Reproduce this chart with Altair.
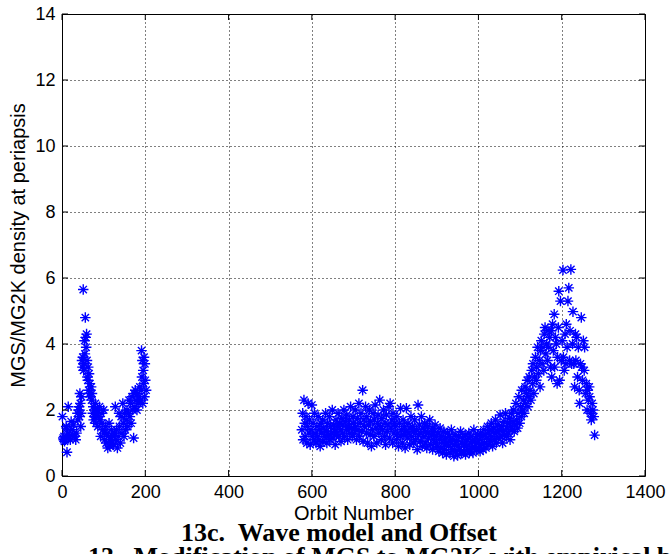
import altair as alt
import pandas as pd

# ---------------- data ----------------
orbit_early = [1, 3, 4, 5, 6, 8, 10, 11, 12, 13, 15, 16, 18, 20, 22, 24, 26, 28, 30, 33,
               35, 37, 38, 40, 41, 42, 43, 44, 45, 46, 47, 48, 49, 50, 51, 52, 53, 54, 55, 56,
               57, 58, 59, 60, 61, 62, 63, 64, 65, 66, 67, 68, 70, 71, 72, 74, 75, 76, 78, 79,
               80, 82, 83, 85, 86, 88, 90, 91, 93, 94, 96, 98, 100, 101, 103, 105, 106, 108, 110, 112,
               113, 115, 117, 119, 120, 122, 124, 126, 128, 129, 131, 133, 135, 137, 138, 140, 142, 144, 146, 147,
               149, 150, 152, 154, 156, 158, 160, 161, 163, 165, 166, 168, 170, 172, 173, 175, 176, 178, 180, 182,
               183, 185, 187, 188, 190, 191, 192, 193, 194, 195, 196, 197, 198, 199, 200, 202]
dens_early = [1.8, 1.15, 1.1, 1.2, 1.05, 1.1, 1.5, 1.45, 0.72, 1.3, 2.1, 1.15, 1.2, 1.1, 1.65, 1.4, 1.25, 1.55, 1.2, 1.1,
              1.3, 1.9, 1.7, 2.0, 2.1, 1.8, 2.5, 2.2, 1.5, 1.9, 2.4, 3.5, 3.3, 3.6, 5.65, 3.2, 3.4, 4.1, 3.7, 4.8,
              4.2, 3.9, 4.3, 3.5, 3.0, 2.9, 3.3, 2.6, 3.1, 2.5, 2.8, 2.4, 2.7, 2.3, 2.5, 1.9, 2.1, 1.7, 2.0, 1.8,
              2.2, 1.6, 1.9, 2.0, 1.5, 1.8, 2.1, 1.7, 1.2, 1.9, 1.6, 1.4, 2.0, 1.3, 1.1, 1.5, 1.0, 1.3, 0.85, 1.2,
              1.6, 0.9, 1.1, 1.4, 1.0, 1.2, 0.95, 1.3, 2.1, 1.1, 1.4, 0.85, 1.2, 1.9, 1.5, 1.0, 1.8, 1.3, 2.2, 1.6,
              1.2, 1.9, 1.4, 1.7, 2.0, 1.5, 1.9, 2.3, 1.8, 2.2, 1.6, 2.4, 2.0, 1.15, 2.5, 2.1, 2.6, 2.3, 2.0, 2.5,
              2.2, 2.4, 2.7, 2.3, 2.6, 3.8, 3.0, 3.5, 2.2, 3.2, 2.8, 3.6, 2.4, 3.4, 2.9, 2.6]

orbit_600 = [576, 578, 579, 581, 583, 584, 586, 588, 589, 591, 593, 594, 596, 598, 600, 601, 603, 605, 606, 608,
             610, 612, 613, 615, 617, 619, 620, 622, 624, 626, 627, 629, 631, 633, 635, 636, 638, 640, 642, 643,
             645, 647, 649, 651, 652, 654, 656, 658, 659, 661, 663, 665, 667, 668, 670, 672, 674, 675, 677, 679,
             681, 683, 684, 686, 688, 690, 691, 693, 695, 697, 699]
dens_600 = [1.4, 1.9, 1.1, 2.3, 1.6, 1.2, 1.8, 1.0, 1.5, 2.2, 1.3, 1.7, 0.95, 1.4, 2.15, 1.2, 1.6, 1.1, 1.9, 1.3,
            1.0, 1.5, 1.2, 1.8, 1.1, 1.4, 0.9, 1.6, 1.3, 1.7, 1.05, 1.45, 1.2, 1.9, 1.35, 1.0, 1.6, 1.25, 1.8, 1.1,
            1.5, 1.3, 2.0, 1.15, 1.55, 1.35, 0.95, 1.7, 1.25, 1.5, 1.9, 1.2, 1.6, 1.4, 1.05, 1.75, 1.3, 1.55, 2.0, 1.2,
            1.65, 1.4, 1.85, 1.1, 1.5, 1.7, 1.3, 2.1, 1.45, 1.2, 1.8]

orbit_700 = [700, 702, 704, 705, 707, 709, 711, 713, 714, 716, 718, 720, 722, 723, 725, 727, 729, 731, 732, 734,
             736, 738, 740, 741, 743, 745, 747, 749, 750, 752, 754, 756, 758, 759, 761, 763, 765, 767, 768, 770,
             772, 774, 776, 777, 779, 781, 783, 785, 786, 788, 790, 792, 794, 795, 797, 799]
dens_700 = [1.6, 1.3, 2.0, 1.5, 1.1, 1.75, 1.4, 2.2, 1.2, 1.6, 1.9, 1.35, 2.6, 1.05, 1.7, 1.5, 2.1, 1.3, 1.8, 1.0,
            1.55, 2.0, 1.25, 1.65, 0.9, 1.4, 1.9, 1.2, 1.7, 2.15, 1.45, 1.0, 1.6, 1.85, 1.3, 2.3, 1.5, 1.1, 1.75, 1.4,
            2.0, 1.2, 1.6, 0.95, 1.85, 1.35, 1.55, 2.1, 1.15, 2.2, 1.45, 1.7, 1.0, 1.9, 1.3, 1.6]

orbit_800 = [801, 803, 804, 806, 808, 810, 812, 813, 815, 817, 819, 821, 822, 824, 826, 827, 829, 831, 833, 835,
             836, 838, 840, 842, 844, 845, 847, 849, 851, 853, 855, 856, 858, 860, 862, 863, 865, 867, 869, 871,
             872, 874, 876, 878, 880, 881, 883, 885, 887, 889, 890, 892, 894, 896, 898, 899]
dens_800 = [1.5, 1.1, 1.8, 1.3, 0.9, 1.6, 1.2, 2.05, 1.4, 1.0, 1.7, 1.25, 1.5, 0.85, 1.35, 2.05, 1.15, 1.6, 1.3, 0.95,
            1.45, 1.8, 1.2, 1.5, 1.0, 1.35, 1.7, 1.1, 1.4, 0.8, 2.15, 1.25, 1.55, 1.05, 1.3, 1.8, 0.9, 1.45, 1.2, 1.6,
            1.0, 1.35, 0.85, 1.5, 1.15, 1.3, 1.7, 0.95, 1.25, 1.45, 0.8, 1.1, 1.35, 1.55, 1.0, 1.2]

orbit_900 = [901, 903, 905, 906, 908, 910, 912, 914, 915, 917, 919, 921, 923, 924, 926, 928, 930, 932, 933, 935,
             937, 939, 941, 942, 944, 946, 948, 950, 951, 953, 955, 957, 959, 960, 962, 964, 966, 968, 969, 971,
             973, 975, 977, 978, 980, 982, 984, 986, 987, 989, 991, 993, 995, 996, 998]
dens_900 = [0.9, 1.3, 0.75, 1.1, 1.45, 0.85, 1.2, 0.7, 1.0, 1.35, 0.8, 1.15, 0.65, 1.0, 1.3, 0.9, 1.2, 0.7, 1.05, 1.4,
            0.8, 1.1, 0.6, 0.95, 1.25, 0.75, 1.05, 0.62, 0.9, 1.2, 0.8, 1.35, 0.7, 1.0, 1.15, 0.75, 0.95, 1.25, 0.65, 0.9,
            1.1, 0.8, 1.3, 0.7, 1.0, 1.2, 0.85, 1.05, 0.7, 1.4, 0.9, 1.15, 0.8, 1.0, 1.25]

orbit_1000 = [1000, 1002, 1004, 1005, 1007, 1009, 1011, 1013, 1014, 1016, 1018, 1020, 1022, 1023, 1025, 1027, 1029,
              1031, 1032, 1034, 1036, 1038, 1040, 1041, 1043, 1045, 1047, 1049, 1050, 1052, 1054, 1056, 1058, 1059,
              1061, 1063, 1065, 1067, 1068, 1070, 1072, 1074, 1076, 1077, 1079, 1081, 1083, 1085, 1086, 1088, 1090,
              1092, 1094, 1095, 1097, 1099]
dens_1000 = [0.85, 1.1, 0.75, 1.3, 0.95, 1.2, 0.8, 1.4, 1.0, 1.25, 0.85, 1.15, 1.5, 0.95, 1.3, 1.4, 1.05,
             1.6, 1.2, 0.9, 1.45, 1.1, 1.3, 1.7, 1.0, 1.35, 1.55, 1.15, 1.4, 1.85, 1.2, 1.5, 1.0, 1.35,
             1.65, 1.25, 1.9, 1.2, 1.45, 1.6, 1.3, 1.75, 1.1, 1.5, 1.9, 1.4, 1.65, 2.0, 1.35, 1.55, 2.2,
             1.7, 1.45, 1.9, 2.4, 1.6]

orbit_1100 = [1101, 1103, 1104, 1106, 1108, 1110, 1112, 1113, 1115, 1117, 1119, 1121, 1122, 1124, 1126, 1128, 1130,
              1131, 1133, 1135, 1137, 1139, 1140, 1142, 1144, 1146, 1148, 1149, 1151, 1153, 1155, 1157, 1158, 1160,
              1162, 1164, 1166, 1167, 1169, 1171, 1173, 1175, 1176, 1178]
dens_1100 = [2.1, 1.8, 2.6, 2.0, 2.3, 1.9, 2.7, 2.2, 2.5, 2.9, 2.1, 2.4, 3.0, 2.6, 2.3, 3.2, 2.8,
             3.4, 2.5, 3.0, 3.6, 2.9, 3.3, 3.9, 3.1, 3.5, 2.7, 3.8, 4.1, 3.4, 3.9, 3.2, 4.3, 4.5,
             3.7, 4.0, 3.5, 4.4, 3.9, 4.2, 3.3, 4.4, 3.0, 4.6]

orbit_1180 = [1180, 1182, 1183, 1185, 1187, 1189, 1190, 1192, 1193, 1195, 1197, 1199, 1201, 1203, 1204, 1206, 1208,
              1210, 1211, 1213, 1215, 1217, 1219, 1220, 1222, 1224, 1226, 1227, 1229]
dens_1180 = [3.8, 4.9, 3.3, 4.2, 4.0, 2.8, 3.6, 4.5, 5.6, 2.9, 5.3, 3.5, 4.1, 6.24, 3.6, 3.2, 4.3,
             3.4, 4.6, 3.9, 5.3, 5.7, 3.5, 4.4, 6.26, 3.4, 4.0, 4.98, 3.4]

orbit_1230 = [1231, 1233, 1234, 1236, 1238, 1240, 1242, 1243, 1245, 1247, 1248, 1250, 1252, 1254, 1255, 1257, 1259,
              1261, 1262, 1264, 1266, 1267, 1269, 1271, 1273, 1275, 1277, 1279]
dens_1230 = [2.7, 4.3, 3.5, 4.2, 3.0, 3.9, 2.6, 2.2, 3.4, 4.8, 3.3, 2.9, 4.1, 3.2, 3.9, 2.5, 2.8,
             2.0, 2.6, 2.3, 2.7, 2.4, 1.9, 1.7, 2.2, 2.0, 1.8, 1.24]

x_ticks = [0, 200, 400, 600, 800, 1000, 1200, 1400]
y_ticks = [0, 2, 4, 6, 8, 10, 12, 14]

x_title = "Orbit Number"
y_title = "MGS/MG2K density at periapsis"
fig_title = "13c.\u00a0 Wave model and Offset"
caption = "13.\u00a0 Modification of MGS to MG2K with empirical bottomside scaling"

# ---------------- build table ----------------
orbits = (orbit_early + orbit_600 + orbit_700 + orbit_800 + orbit_900 +
          orbit_1000 + orbit_1100 + orbit_1180 + orbit_1230)
dens = (dens_early + dens_600 + dens_700 + dens_800 + dens_900 +
        dens_1000 + dens_1100 + dens_1180 + dens_1230)
df = pd.DataFrame({"orbit": orbits, "density": dens})
xt = pd.DataFrame({"t": x_ticks})
yt = pd.DataFrame({"t": y_ticks})

W, H = 583, 462
xscale = alt.Scale(domain=[0, 1400], nice=False, zero=False)
yscale = alt.Scale(domain=[0, 14], nice=False, zero=False)

common = dict(grid=True, gridColor="#000000", gridDash=[1, 3], gridOpacity=1, gridWidth=1,
              tickSize=0, domain=False, labelPadding=7, format="d",
              labelFont="Liberation Sans", labelFontSize=18, labelColor="black",
              titleFont="Liberation Sans", titleFontSize=20, titleFontWeight="normal",
              titleColor="black", labelFlush=False)
x_axis = alt.Axis(values=x_ticks, title=x_title, titlePadding=2, **common)
y_axis = alt.Axis(values=y_ticks, title=y_title, titlePadding=6, **common)

ASTERISK = "M-1,0L1,0M0,-1L0,1M-0.7,-0.7L0.7,0.7M-0.7,0.7L0.7,-0.7"

points = alt.Chart(df).mark_point(
    shape=ASTERISK, filled=False, size=110, strokeWidth=1.4,
    color="#0000ff", opacity=1
).encode(
    x=alt.X("orbit:Q", scale=xscale, axis=x_axis),
    y=alt.Y("density:Q", scale=yscale, axis=y_axis),
)

tick_len = 6
xb = alt.Chart(xt).mark_rule(color="black", strokeWidth=1).encode(
    x=alt.X("t:Q", scale=xscale, axis=x_axis), y=alt.value(H), y2=alt.value(H - tick_len))
xtp = alt.Chart(xt).mark_rule(color="black", strokeWidth=1).encode(
    x=alt.X("t:Q", scale=xscale, axis=x_axis), y=alt.value(0), y2=alt.value(tick_len))
yl = alt.Chart(yt).mark_rule(color="black", strokeWidth=1).encode(
    y=alt.Y("t:Q", scale=yscale, axis=y_axis), x=alt.value(0), x2=alt.value(tick_len))
yr = alt.Chart(yt).mark_rule(color="black", strokeWidth=1).encode(
    y=alt.Y("t:Q", scale=yscale, axis=y_axis), x=alt.value(W), x2=alt.value(W - tick_len))

title_txt = alt.Chart(xt.head(1)).mark_text(
    font="Liberation Serif", fontWeight="bold", fontSize=26, color="black",
    align="center", baseline="alphabetic"
).encode(x=alt.value(277), y=alt.value(H + 65), text=alt.value(fig_title))

caption_txt = alt.Chart(xt.head(1)).mark_text(
    font="Liberation Serif", fontWeight="bold", fontSize=26, color="black",
    align="left", baseline="alphabetic"
).encode(x=alt.value(26), y=alt.value(H + 89), text=alt.value(caption))

chart = alt.layer(points, xb, xtp, yl, yr, title_txt, caption_txt).properties(
    width=W, height=H,
    padding={"left": 62, "top": 14, "right": 25, "bottom": 78},
    autosize=alt.AutoSizeParams(type="none"),
    background="white",
).configure_view(stroke="black", strokeWidth=1)

chart.save("out.html", embed_options={"renderer": "svg", "actions": False})
